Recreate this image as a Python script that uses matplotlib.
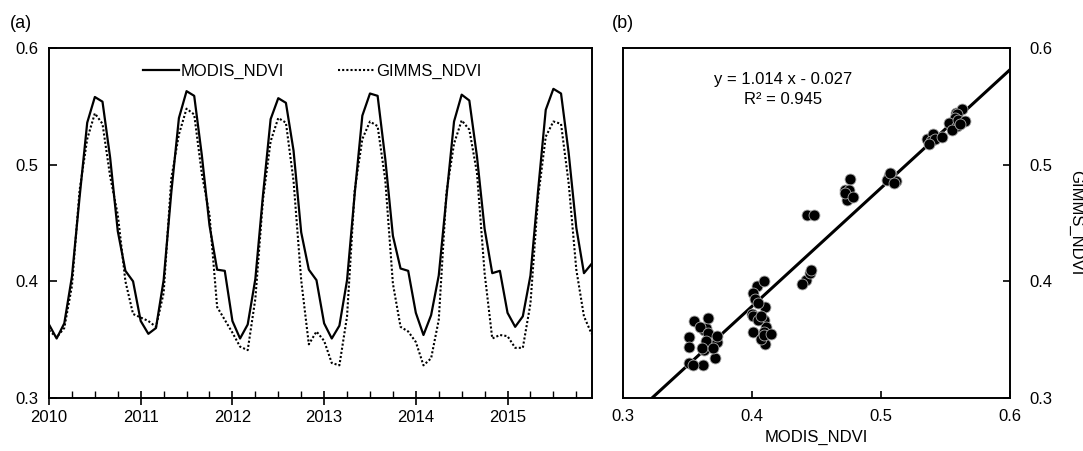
import numpy as np
import matplotlib
matplotlib.use("Agg")
import matplotlib.pyplot as plt
from matplotlib.ticker import MultipleLocator, FormatStrFormatter

plt.rcParams['font.family'] = ['Liberation Sans', 'DejaVu Sans']
plt.rcParams['font.size'] = 12

# monthly NDVI, Jan 2010 - Dec 2015
modis_ndvi = [
    0.363, 0.351, 0.364, 0.404, 0.472, 0.536, 0.558, 0.554, 0.506, 0.443, 0.409, 0.400,
    0.366, 0.355, 0.360, 0.401, 0.476, 0.540, 0.563, 0.559, 0.508, 0.448, 0.410, 0.409,
    0.366, 0.351, 0.363, 0.402, 0.474, 0.539, 0.557, 0.553, 0.512, 0.442, 0.410, 0.401,
    0.364, 0.351, 0.362, 0.401, 0.475, 0.542, 0.561, 0.559, 0.505, 0.439, 0.411, 0.409,
    0.373, 0.354, 0.371, 0.405, 0.472, 0.537, 0.560, 0.555, 0.507, 0.445, 0.407, 0.409,
    0.373, 0.361, 0.370, 0.405, 0.478, 0.547, 0.565, 0.561, 0.510, 0.446, 0.407, 0.415,
]
gimms_ndvi = [
    0.358, 0.352, 0.360, 0.396, 0.478, 0.522, 0.544, 0.535, 0.490, 0.457, 0.400, 0.372,
    0.369, 0.366, 0.361, 0.390, 0.488, 0.526, 0.548, 0.543, 0.492, 0.457, 0.378, 0.367,
    0.356, 0.344, 0.341, 0.385, 0.470, 0.520, 0.540, 0.536, 0.486, 0.401, 0.346, 0.357,
    0.349, 0.330, 0.328, 0.370, 0.478, 0.522, 0.537, 0.533, 0.487, 0.398, 0.361, 0.357,
    0.348, 0.328, 0.334, 0.367, 0.476, 0.518, 0.538, 0.530, 0.493, 0.407, 0.351, 0.354,
    0.353, 0.343, 0.343, 0.381, 0.472, 0.524, 0.537, 0.535, 0.484, 0.410, 0.370, 0.355,
]
start_year = 2010
year_ticks = [2010, 2011, 2012, 2013, 2014, 2015]
ndvi_ticks = [0.3, 0.4, 0.5, 0.6]

# regression from panel b
slope = 1.014
intercept = -0.027
r2 = 0.945

t = start_year + np.arange(len(modis_ndvi)) / 12.0

W, H = 1083, 451
fig = plt.figure(figsize=(W / 100, H / 100), dpi=100)
ax1 = fig.add_axes([49 / W, 53 / H, 542.6 / W, 350 / H])
ax2 = fig.add_axes([623 / W, 53 / H, 387 / W, 350 / H])

# ---- panel (a): time series
ax1.plot(t, modis_ndvi, color='black', lw=1.6, label='MODIS_NDVI')
ax1.plot(t, gimms_ndvi, color='black', lw=1.5, ls=(0, (1, 1)), label='GIMMS_NDVI')
ax1.set_xlim(t[0], t[-1])
ax1.set_ylim(0.3, 0.6)
ax1.set_xticks(year_ticks)
ax1.xaxis.set_minor_locator(MultipleLocator(0.25))
ax1.set_yticks(ndvi_ticks)
ax1.yaxis.set_major_formatter(FormatStrFormatter('%.1f'))
ax1.tick_params(axis='x', which='major', direction='inout', length=10, width=1.2, pad=4)
ax1.tick_params(axis='x', which='minor', direction='in', length=5, width=1.0)
ax1.tick_params(axis='y', which='major', direction='in', length=6, width=1.2, pad=8)
ax1.legend(loc='center', bbox_to_anchor=(0.485, 0.932), ncol=2, frameon=False,
           handlelength=2.2, handletextpad=0.1, columnspacing=3.2, fontsize=12)

# ---- panel (b): scatter + fit
line_x = np.array([0.3, 0.6])
ax2.plot(line_x, slope * line_x + intercept, color='black', lw=2.2, zorder=2)
ax2.scatter(modis_ndvi, gimms_ndvi, s=62, c='black', edgecolors='#aaaaaa',
            linewidths=0.6, zorder=3)
ax2.set_xlim(0.3, 0.6)
ax2.set_ylim(0.3, 0.6)
ax2.set_xticks(ndvi_ticks)
ax2.set_yticks(ndvi_ticks)
ax2.xaxis.set_major_formatter(FormatStrFormatter('%.1f'))
ax2.yaxis.set_major_formatter(FormatStrFormatter('%.1f'))
ax2.yaxis.tick_right()
ax2.yaxis.set_label_position('right')
ax2.tick_params(axis='x', direction='in', length=5, width=1.2, pad=8)
ax2.tick_params(axis='y', direction='in', length=5, width=1.2, pad=14)
ax2.set_xlabel('MODIS_NDVI', fontsize=12, labelpad=4)
ax2.set_ylabel('GIMMS_NDVI', fontsize=12, rotation=270, labelpad=22)
ax2.text(0.424, 0.573, f'y = {slope:.3f} x - {abs(intercept):.3f}', ha='center', va='center', fontsize=12)
ax2.text(0.424, 0.556, f'R\u00b2 = {r2:.3f}', ha='center', va='center', fontsize=12)

for ax in (ax1, ax2):
    for sp in ax.spines.values():
        sp.set_linewidth(1.4)

fig.text(10 / W, 1 - 24 / H, '(a)', fontsize=13, va='center')
fig.text(612 / W, 1 - 24 / H, '(b)', fontsize=13, va='center')

fig.savefig('out.png', dpi=100)
